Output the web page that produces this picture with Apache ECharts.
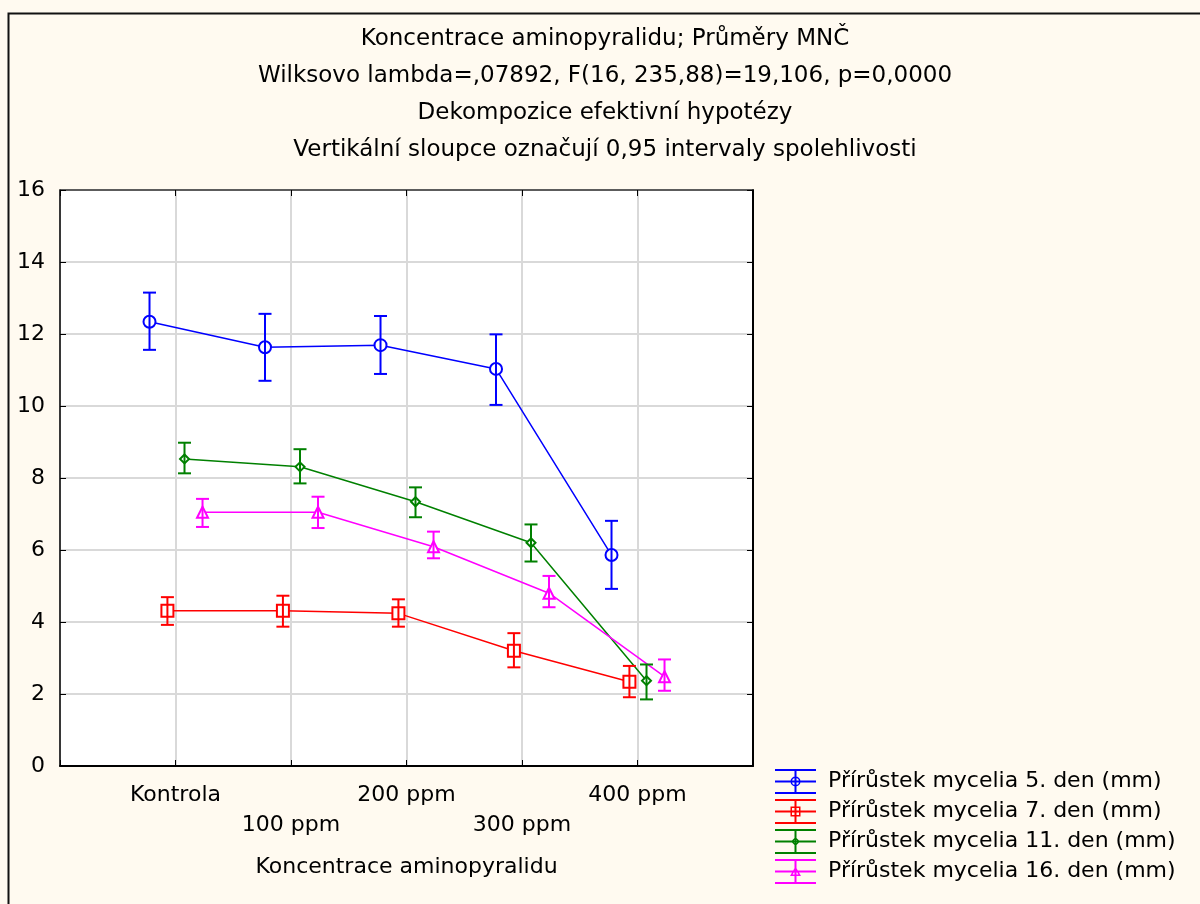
<!DOCTYPE html>
<html>
<head>
<meta charset="utf-8">
<script src="https://cdn.jsdelivr.net/npm/echarts@6/dist/echarts.min.js"></script>
<style>
  html, body { margin: 0; padding: 0; background: #fffaf0; }
  #chart { width: 1200px; height: 904px; }
</style>
</head>
<body>
<div id="chart"></div>
<script>
const categories = ['Kontrola', '100 ppm', '200 ppm', '300 ppm', '400 ppm']
const yTicks = [0, 2, 4, 6, 8, 10, 12, 14, 16]

const day5Mean = [12.34, 11.63, 11.69, 11.03, 5.86]
const day5Low = [11.56, 10.70, 10.89, 10.03, 4.92]
const day5High = [13.15, 12.56, 12.50, 11.99, 6.81]

const day7Mean = [4.31, 4.31, 4.24, 3.20, 2.34]
const day7Low = [3.92, 3.87, 3.87, 2.74, 1.91]
const day7High = [4.69, 4.73, 4.63, 3.69, 2.78]

const day11Mean = [8.53, 8.31, 7.34, 6.20, 2.37]
const day11Low = [8.13, 7.85, 6.91, 5.68, 1.85]
const day11High = [8.98, 8.80, 7.74, 6.71, 2.82]

const day16Mean = [7.05, 7.05, 6.09, 4.80, 2.48]
const day16Low = [6.64, 6.61, 5.77, 4.41, 2.09]
const day16High = [7.42, 7.48, 6.51, 5.28, 2.96]

const font = 'DejaVu Sans'

// legend icon = error bar with caps + the series marker
const barPath = 'M0 0H41V2H0Z M0 11.5H41V13.5H0Z M0 23H41V25H0Z M19.5 0H21.5V25H19.5Z '
const markerPaths = {
  circle: 'M25.5 12.5A5 5 0 1 1 15.5 12.5A5 5 0 1 1 25.5 12.5Z M24 12.5A3.5 3.5 0 1 0 17 12.5A3.5 3.5 0 1 0 24 12.5Z',
  square: 'M15.5 7.5H25.5V17.5H15.5Z M17 9V16H24V9Z',
  diamond: 'M20.5 8L25 12.5L20.5 17L16 12.5Z M20.5 9.8L17.8 12.5L20.5 15.2L23.2 12.5Z',
  triangle: 'M20.5 7.5L26 17L15 17Z M20.5 10.5L17.6 15.5L23.4 15.5Z'
}

// series list: name, data, colour, symbol, horizontal shift inside the category
const groups = [
  { name: 'Přírůstek mycelia 5. den (mm)', mean: day5Mean, low: day5Low, high: day5High, color: '#0000ff', symbol: 'emptyCircle', icon: 'circle', size: 12, shift: -0.225 },
  { name: 'Přírůstek mycelia 7. den (mm)', mean: day7Mean, low: day7Low, high: day7High, color: '#ff0000', symbol: 'emptyRect', icon: 'square', size: 12, shift: -0.07 },
  { name: 'Přírůstek mycelia 11. den (mm)', mean: day11Mean, low: day11Low, high: day11High, color: '#008000', symbol: 'emptyDiamond', icon: 'diamond', size: 9, shift: 0.078 },
  { name: 'Přírůstek mycelia 16. den (mm)', mean: day16Mean, low: day16Low, high: day16High, color: '#ff00ff', symbol: 'emptyTriangle', icon: 'triangle', size: 11, shift: 0.234 }
]

function errorBars(color) {
  return function (params, api) {
    const x = api.value(0)
    const top = api.coord([x, api.value(2)])
    const bot = api.coord([x, api.value(1)])
    const style = { stroke: color, lineWidth: 2 }
    return {
      type: 'group',
      children: [
        { type: 'line', shape: { x1: top[0], y1: top[1], x2: bot[0], y2: bot[1] }, style: style },
        { type: 'line', shape: { x1: top[0] - 6.5, y1: top[1], x2: top[0] + 6.5, y2: top[1] }, style: style },
        { type: 'line', shape: { x1: bot[0] - 6.5, y1: bot[1], x2: bot[0] + 6.5, y2: bot[1] }, style: style }
      ]
    }
  }
}

const series = []
groups.forEach(g => {
  series.push({
    name: g.name,
    type: 'line',
    data: g.mean.map((v, i) => [i + 1 + g.shift, v]),
    symbol: g.symbol,
    symbolSize: g.size,
    itemStyle: { color: g.color, borderWidth: 1.5 },
    lineStyle: { color: g.color, width: 1.5 },
    z: 3
  })
  series.push({
    name: g.name,
    type: 'custom',
    data: g.mean.map((v, i) => [i + 1 + g.shift, g.low[i], g.high[i]]),
    encode: { x: 0, y: [1, 2] },
    renderItem: errorBars(g.color),
    itemStyle: { color: g.color },
    z: 4
  })
})

const tickStyle = { show: true, inside: true, length: 6, lineStyle: { color: '#000', width: 1 } }

const myChart = echarts.init(document.getElementById('chart'))
myChart.setOption({
  backgroundColor: '#fffaf0',
  animation: false,
  title: {
    text: 'Koncentrace aminopyralidu; Průměry MNČ\nWilksovo lambda=,07892, F(16, 235,88)=19,106, p=0,0000\nDekompozice efektivní hypotézy\nVertikální sloupce označují 0,95 intervaly spolehlivosti',
    left: 605,
    textAlign: 'center',
    top: 21,
    padding: 0,
    textStyle: { fontFamily: font, fontSize: 23, fontWeight: 'normal', color: '#000', lineHeight: 37 }
  },
  graphic: [{
    type: 'rect',
    left: 6,
    top: 11,
    shape: { width: 1300, height: 1000 },
    style: { fill: 'none', stroke: '#111', lineWidth: 2 },
    silent: true
  }],
  grid: {
    left: 60,
    top: 190,
    right: 447,
    bottom: 138,
    show: true,
    backgroundColor: '#fff',
    borderWidth: 0
  },
  legend: {
    orient: 'vertical',
    left: 770,
    top: 764,
    itemWidth: 41,
    itemHeight: 25,
    itemGap: 5,
    data: groups.map(g => ({ name: g.name, icon: 'path://' + barPath + markerPaths[g.icon], itemStyle: { color: g.color } })),
    textStyle: { fontFamily: font, fontSize: 22, color: '#000', padding: [0, 0, 0, 7] }
  },
  xAxis: [{
    type: 'value',
    min: 0,
    max: 6,
    interval: 1,
    position: 'bottom',
    axisLine: { onZero: false, lineStyle: { color: '#000', width: 2 } },
    axisTick: tickStyle,
    axisLabel: {
      fontFamily: font,
      fontSize: 22,
      color: '#000',
      margin: 14,
      lineHeight: 30,
      formatter: function (v) {
        const i = Math.round(v) - 1
        if (i < 0 || i >= categories.length) return ''
        return i % 2 === 1 ? '\n' + categories[i] : categories[i]
      }
    },
    splitLine: { show: true, lineStyle: { color: '#d9d9d9', width: 2 } },
    name: 'Koncentrace aminopyralidu',
    nameLocation: 'middle',
    nameGap: 90,
    nameTextStyle: { fontFamily: font, fontSize: 22, color: '#000' }
  }, {
    type: 'value',
    min: 0,
    max: 6,
    interval: 1,
    position: 'top',
    axisLine: { onZero: false, lineStyle: { color: '#333', width: 1.5 } },
    axisTick: tickStyle,
    axisLabel: { show: false },
    splitLine: { show: false }
  }],
  yAxis: [{
    type: 'value',
    min: yTicks[0],
    max: yTicks[yTicks.length - 1],
    interval: 2,
    axisLine: { show: true, onZero: false, lineStyle: { color: '#000', width: 1.5 } },
    axisTick: tickStyle,
    axisLabel: { fontFamily: font, fontSize: 22, color: '#000', margin: 15 },
    splitLine: { show: true, lineStyle: { color: '#d9d9d9', width: 2 } }
  }, {
    type: 'value',
    position: 'right',
    min: yTicks[0],
    max: yTicks[yTicks.length - 1],
    interval: 2,
    axisLine: { show: true, onZero: false, lineStyle: { color: '#000', width: 2 } },
    axisTick: tickStyle,
    axisLabel: { show: false },
    splitLine: { show: false }
  }],
  series: series
})
</script>
</body>
</html>
